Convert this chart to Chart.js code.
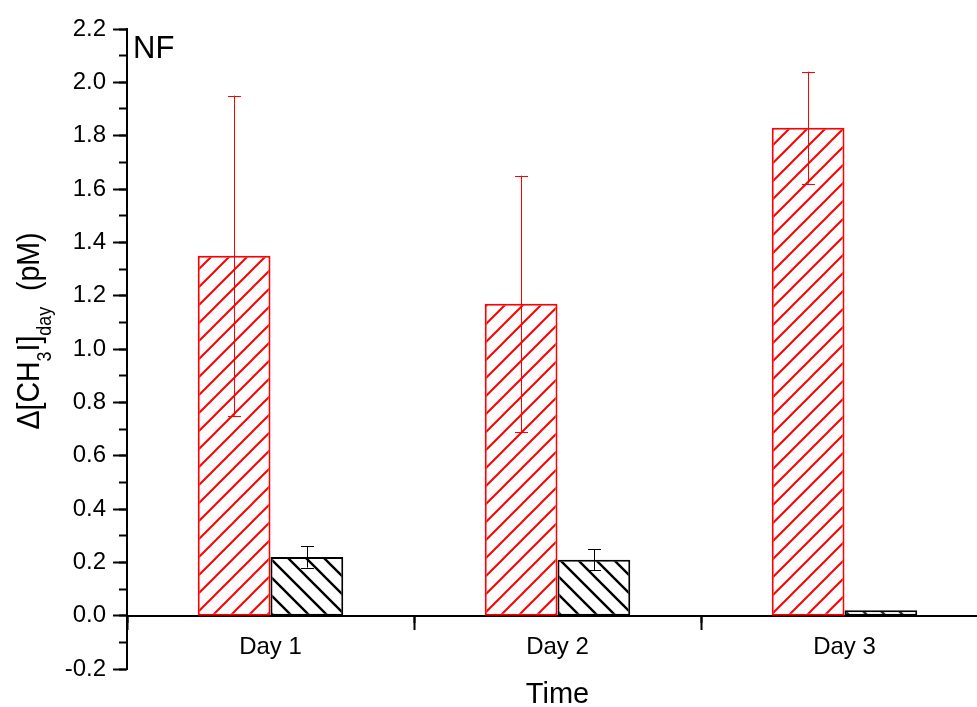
<!DOCTYPE html>
<html><head><meta charset="utf-8">
<script src="https://cdn.jsdelivr.net/npm/chart.js@4.4.1/dist/chart.umd.min.js"></script>
<style>html,body{margin:0;padding:0;overflow:hidden;background:#fff}#wrap{width:990px;height:707px;position:relative}</style>
</head><body><div id="wrap"><canvas id="c"></canvas></div>
<script>
const categories = ['Day 1', 'Day 2', 'Day 3'];
const redValues = [1.35, 1.17, 1.83];
const redErrors = [0.60, 0.48, 0.21];
const blackValues = [0.22, 0.21, 0.02];
const blackErrors = [0.04, 0.04, 0];
const yMin = -0.2, yMax = 2.2, yMajorStep = 0.2, yMinorStep = 0.1;
const xTitle = 'Time';
const panelLabel = 'NF';
const yTitleParts = [['Δ[CH', false], ['3', true], ['I]', false], ['day', true], ['  (pM)', false]];

const FONT = '"Liberation Sans", Arial, sans-serif';

function hatch(color, dir, lw) {
  const s = 18;
  const c = document.createElement('canvas'); c.width = s; c.height = s;
  const g = c.getContext('2d');
  g.fillStyle = '#fff'; g.fillRect(0, 0, s, s);
  g.strokeStyle = color; g.lineWidth = lw; g.beginPath();
  if (dir === '/') {
    g.moveTo(-2, s + 2); g.lineTo(s + 2, -2);
    g.moveTo(-2, 2); g.lineTo(2, -2);
    g.moveTo(s - 2, s + 2); g.lineTo(s + 2, s - 2);
  } else {
    g.moveTo(-2, -2); g.lineTo(s + 2, s + 2);
    g.moveTo(s - 2, -2); g.lineTo(s + 2, 2);
    g.moveTo(-2, s - 2); g.lineTo(2, s + 2);
  }
  g.stroke();
  return g.createPattern(c, 'repeat');
}

const errorBars = {
  id: 'errorBars',
  afterDatasetsDraw(chart) {
    const ctx = chart.ctx, ys = chart.scales.y;
    chart.data.datasets.forEach((ds, i) => {
      const meta = chart.getDatasetMeta(i);
      meta.data.forEach((bar, j) => {
        const e = ds.errors[j];
        if (!e) return;
        const v = ds.data[j];
        const x = Math.round(bar.x) + 0.5;
        const yt = ys.getPixelForValue(v + e), yb = ys.getPixelForValue(v - e);
        ctx.save();
        ctx.strokeStyle = ds.errorColor; ctx.lineWidth = 1;
        ctx.beginPath();
        ctx.moveTo(x, yt); ctx.lineTo(x, yb);
        ctx.moveTo(x - 6.5, Math.round(yt) + 0.5); ctx.lineTo(x + 6.5, Math.round(yt) + 0.5);
        ctx.moveTo(x - 6.5, Math.round(yb) + 0.5); ctx.lineTo(x + 6.5, Math.round(yb) + 0.5);
        ctx.stroke();
        ctx.restore();
      });
    });
  }
};

const texts = {
  id: 'texts',
  afterDraw(chart) {
    const ctx = chart.ctx, a = chart.chartArea;
    ctx.save();
    ctx.fillStyle = '#000';
    ctx.textBaseline = 'alphabetic';
    ctx.font = '29px ' + FONT; ctx.textAlign = 'center';
    ctx.fillText(xTitle, (a.left + a.right) / 2, 703);
    ctx.font = '31px ' + FONT; ctx.textAlign = 'left';
    ctx.fillText(panelLabel, a.left + 6, 58);
    // rotated y title (slightly condensed like the original)
    const mainF = '32px ' + FONT, subF = '20px ' + FONT;
    let total = 0;
    yTitleParts.forEach(([t, sub]) => { ctx.font = sub ? subF : mainF; total += ctx.measureText(t).width; });
    const sx = 197 / total;
    ctx.translate(39, 331); ctx.rotate(-Math.PI / 2); ctx.scale(sx, 1);
    let x = -total / 2;
    yTitleParts.forEach(([t, sub]) => {
      ctx.font = sub ? subF : mainF;
      ctx.fillText(t, x, sub ? 12 : 0);
      x += ctx.measureText(t).width;
    });
    ctx.restore();
  }
};

const tickFont = { family: FONT, size: 24 };

new Chart(document.getElementById('c'), {
  type: 'bar',
  data: {
    labels: categories,
    datasets: [
      { data: redValues, errors: redErrors, errorColor: '#ff0000', backgroundColor: hatch('#ff0000', '/', 2), borderColor: '#ff0000', borderWidth: 2, borderSkipped: false, barPercentage: 1, categoryPercentage: 0.507 },
      { data: blackValues, errors: blackErrors, errorColor: '#000', backgroundColor: hatch('#000', '\\', 2.4), borderColor: '#000', borderWidth: 2, borderSkipped: false, barPercentage: 1, categoryPercentage: 0.507 }
    ]
  },
  options: {
    responsive: true, maintainAspectRatio: false, animation: false,
    layout: { padding: { top: 29, bottom: 38, left: 0, right: 2 } },
    plugins: { legend: { display: false }, tooltip: { enabled: false }, title: { display: false } },
    scales: {
      x: {
        type: 'category', offset: true, position: { y: 0 },
        grid: { drawOnChartArea: false, drawTicks: true, tickLength: 13, tickWidth: 2, tickColor: '#000' },
        border: { display: true, color: '#000', width: 2 },
        ticks: { color: '#000', font: tickFont, padding: 4, maxRotation: 0, autoSkip: false }
      },
      x2: {
        type: 'category', labels: categories, offset: true, position: { y: 0 },
        grid: { offset: true, drawOnChartArea: false, drawTicks: true, tickLength: 7, tickWidth: 2, tickColor: '#000' },
        border: { display: false },
        ticks: { display: false }
      },
      y: {
        type: 'linear', position: 'left', min: yMin, max: yMax,
        grid: { drawOnChartArea: false, drawTicks: true, tickLength: 14, tickWidth: 2, tickColor: '#000' },
        border: { display: true, color: '#000', width: 2 },
        ticks: { stepSize: yMajorStep, color: '#000', font: tickFont, padding: 7, callback: v => Number(v).toFixed(1) },
        afterFit: s => { s.width = 127; }
      },
      y2: {
        type: 'linear', position: { x: -0.5 }, min: yMin, max: yMax,
        grid: { drawOnChartArea: false, drawTicks: true, tickLength: 8, tickWidth: 2, tickColor: '#000' },
        border: { display: false },
        ticks: { display: false, stepSize: yMinorStep }
      }
    }
  },
  plugins: [errorBars, texts]
});
</script>
</body></html>
